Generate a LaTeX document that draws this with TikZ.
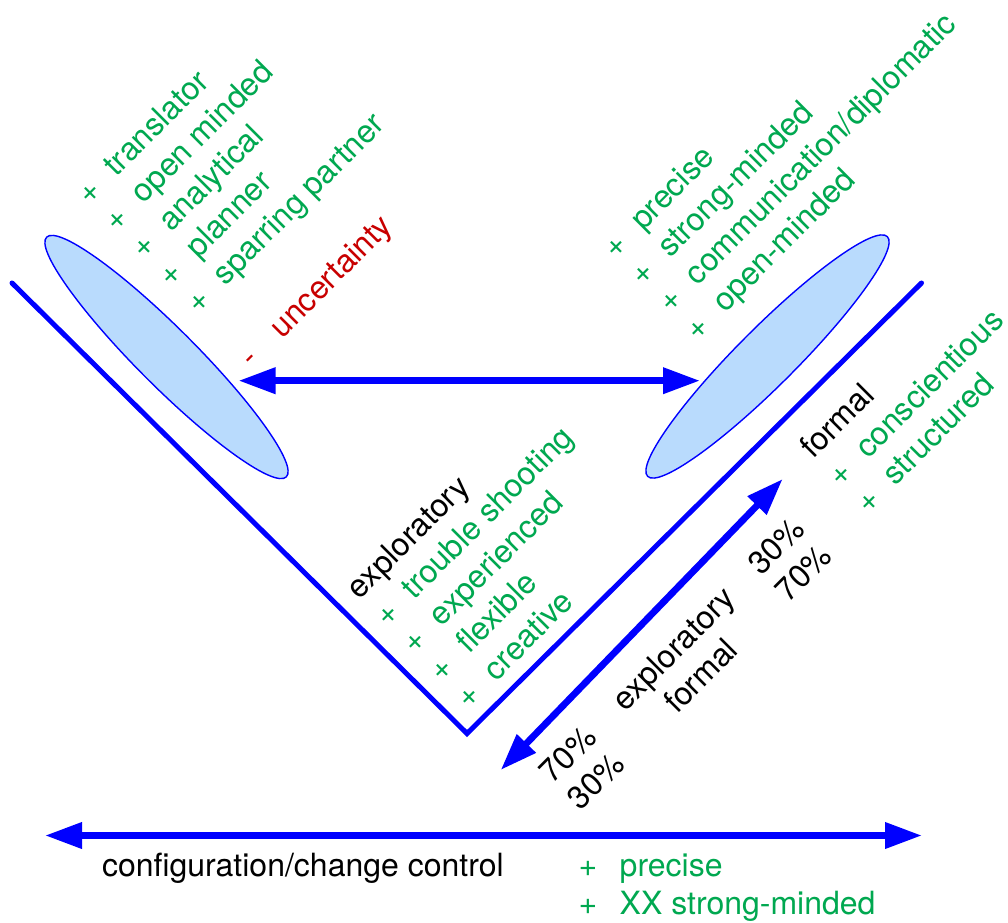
\documentclass[tikz,border=0pt]{standalone}
\usepackage{fontspec}
\setmainfont{TeX Gyre Heros}
\usetikzlibrary{arrows.meta,shapes.geometric}
\definecolor{grn}{RGB}{0,168,80}
\definecolor{dred}{RGB}{200,0,0}
\definecolor{lblue}{RGB}{185,219,253}
\tikzset{
  txt/.style={inner sep=0pt, outer sep=0pt, anchor=base west, font=\fontsize{32}{38}\selectfont},
  gtxt/.style={txt, text=grn},
  rtxt/.style={txt, text=dred},
  vline/.style={draw=blue, line width=5pt, line cap=round, line join=miter},
  blob/.style={ellipse, draw=blue, line width=1.4pt, fill=lblue, minimum width=339pt, minimum height=58pt, inner sep=0pt},
  dbl/.style={draw=blue, line width=6.8pt, {Triangle[length=37pt,width=25pt]}-{Triangle[length=37pt,width=25pt]}},
}
\begin{document}
\begin{tikzpicture}[x=1pt,y=1pt]
\useasboundingbox (0,0) rectangle (1008,922);
% V shape
\coordinate (vL) at (12,639);
\coordinate (vB) at (467,188.5);
\coordinate (vR) at (921.5,639);
\draw[vline] (vL) -- (vB) -- (vR);
% ellipses
\node[blob, rotate=-45] (eL) at (166.5,565) {};
\node[blob, rotate=45] (eR) at (767.5,565.5) {};
% arrows
\coordinate (mL) at (238.5,541.3);
\coordinate (mR) at (700,541.3);
\draw[dbl] (mL) -- (mR);
\coordinate (bL) at (45,86.5);
\coordinate (bR) at (922,86.5);
\draw[dbl] (bL) -- (bR);
\coordinate (dL) at (500.7,152);
\coordinate (dR) at (782.7,443);
\draw[dbl] (dL) -- (dR);
% top-left list
\begin{scope}[shift={(89.1,716.8)}, rotate=45, transform shape]
  \node[gtxt] (tlp1) at (0,0) {+};        \node[gtxt] (tlt1) at (39,0) {translator};
  \node[gtxt] (tlp2) at (0,-38.6) {+};    \node[gtxt] (tlt2) at (39,-38.6) {open minded};
  \node[gtxt] (tlp3) at (0,-77.2) {+};    \node[gtxt] (tlt3) at (39,-77.2) {analytical};
  \node[gtxt] (tlp4) at (0,-115.8) {+};   \node[gtxt] (tlt4) at (39,-115.8) {planner};
  \node[gtxt] (tlp5) at (0,-154.4) {+};   \node[gtxt] (tlt5) at (39,-154.4) {sparring partner};
  \node[rtxt] (tlm)  at (0,-231.6) {-};   \node[rtxt] (tlu) at (42,-231.6) {uncertainty};
\end{scope}
% top-right list
\begin{scope}[shift={(615.6,662.8)}, rotate=45, transform shape]
  \node[gtxt] (trp1) at (0,0) {+};        \node[gtxt] (trt1) at (39,0) {precise};
  \node[gtxt] (trp2) at (0,-38.6) {+};    \node[gtxt] (trt2) at (39,-38.6) {strong-minded};
  \node[gtxt] (trp3) at (0,-77.2) {+};    \node[gtxt] (trt3) at (39,-77.2) {communication/diplomatic};
  \node[gtxt] (trp4) at (0,-115.8) {+};   \node[gtxt] (trt4) at (39,-115.8) {open-minded};
\end{scope}
% middle list
\begin{scope}[shift={(359.8,321.6)}, rotate=45, transform shape]
  \node[txt] (mh) at (0,0) {exploratory};
  \node[gtxt] (mp1) at (0,-38.6) {+};     \node[gtxt] (mt1) at (39,-38.6) {trouble shooting};
  \node[gtxt] (mp2) at (0,-77.2) {+};     \node[gtxt] (mt2) at (39,-77.2) {experienced};
  \node[gtxt] (mp3) at (0,-115.8) {+};    \node[gtxt] (mt3) at (39,-115.8) {flexible};
  \node[gtxt] (mp4) at (0,-154.4) {+};    \node[gtxt] (mt4) at (39,-154.4) {creative};
\end{scope}
% right list
\begin{scope}[shift={(813.5,462.1)}, rotate=45, transform shape]
  \node[txt] (rh) at (0,0) {formal};
  \node[gtxt] (rp1) at (0,-38.6) {+};     \node[gtxt] (rt1) at (39,-38.6) {conscientious};
  \node[gtxt] (rp2) at (0,-77.2) {+};     \node[gtxt] (rt2) at (39,-77.2) {structured};
\end{scope}
% diagonal arrow labels
\node[txt, anchor=base, rotate=45] (ae) at (681.4,265.7) {exploratory};
\node[txt, anchor=base, rotate=45] (af) at (708.6,238.4) {formal};
\node[txt, rotate=45] (u30) at (761.4,345.8) {30\%};
\node[txt, rotate=45] (u70) at (788.7,318.5) {70\%};
\node[txt, rotate=45] (l70) at (552.9,137.2) {70\%};
\node[txt, rotate=45] (l30) at (580.9,110.7) {30\%};
% bottom
\node[txt] (cc) at (102,46) {configuration/change control};
\node[gtxt] (bp1) at (578.7,46) {+};  \node[gtxt] (bt1) at (619.7,46) {precise};
\node[gtxt] (bp2) at (578.7,8) {+};   \node[gtxt] (bt2) at (619.7,8) {XX strong-minded};
\end{tikzpicture}
\end{document}
